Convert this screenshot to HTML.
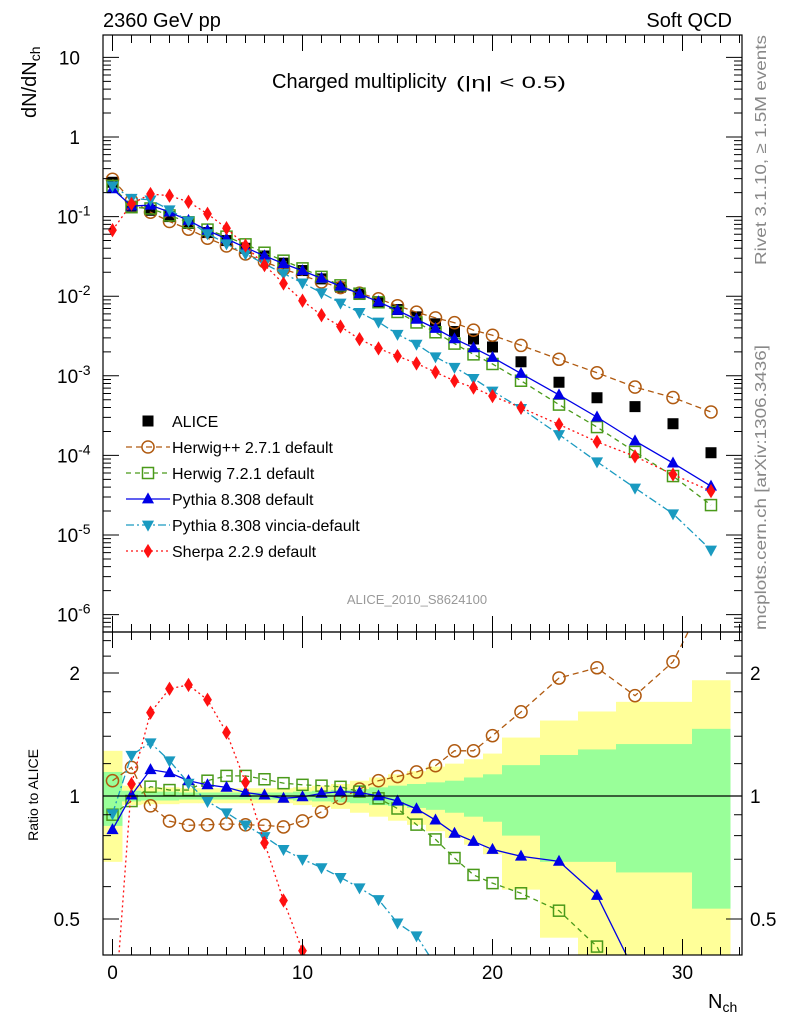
<!DOCTYPE html>
<html><head><meta charset="utf-8">
<style>
html,body{margin:0;padding:0;background:#fff;overflow:hidden;width:786px;height:1024px;}
svg{display:block;position:absolute;left:0;top:0;}
svg text{font-family:"Liberation Sans",sans-serif;}
</style></head>
<body>
<svg id="c" width="786" height="1024" viewBox="0 0 786 1024" xmlns="http://www.w3.org/2000/svg" overflow="hidden">
<defs>
<clipPath id="clipMain"><rect x="103" y="35" width="639" height="597"/></clipPath>
<clipPath id="clipRatio"><rect x="103" y="632" width="639" height="323"/></clipPath>
</defs>
<text x="103" y="27" font-size="20">2360 GeV pp</text>
<text x="732" y="27" font-size="20" text-anchor="end">Soft QCD</text>
<text x="272" y="88" font-size="20">Charged multiplicity</text>
<text x="456" y="88" font-size="17" textLength="110" lengthAdjust="spacingAndGlyphs">(|η| &lt; 0.5)</text>
<text transform="translate(36,118) rotate(-90)" font-size="20">dN/dN<tspan font-size="14" dy="4">ch</tspan></text>
<text transform="translate(38,795) rotate(-90)" font-size="14" text-anchor="middle">Ratio to ALICE</text>
<text transform="translate(766,265) rotate(-90)" font-size="16" fill="#888" textLength="230" lengthAdjust="spacingAndGlyphs">Rivet 3.1.10, ≥ 1.5M events</text>
<text transform="translate(766,630) rotate(-90)" font-size="16" fill="#888" textLength="285" lengthAdjust="spacingAndGlyphs">mcplots.cern.ch [arXiv:1306.3436]</text>
<text x="417" y="604" font-size="13" fill="#999" text-anchor="middle">ALICE_2010_S8624100</text>
<text x="708" y="1008" font-size="20">N<tspan font-size="14" dy="4">ch</tspan></text>
<g id="bands"></g><g id="ratio"></g><g id="main"></g><g id="axes"></g><g id="legend"></g>
</svg>
<script>
const xs=[0,1,2,3,4,5,6,7,8,9,10,11,12,13,14,15,16,17,18,19,20,21.5,23.5,25.5,27.5,29.5,31.5];
const alice=[0.27,0.135,0.12,0.10,0.082,0.063,0.05,0.040,0.032,0.026,0.021,0.0165,0.013,0.0105,0.0085,0.0068,0.0055,0.0045,0.0036,0.0029,0.0023,0.0015,0.00083,0.00053,0.00041,0.00025,0.000108];
const herwigpp=[1.09,1.175,0.946,0.868,0.848,0.85,0.855,0.85,0.848,0.84,0.869,0.915,0.987,1.04,1.09,1.116,1.145,1.186,1.29,1.29,1.405,1.607,1.944,2.06,1.76,2.13,3.25];
const herwig7=[0.90,0.972,1.054,1.034,1.034,1.09,1.12,1.12,1.099,1.075,1.065,1.06,1.053,1.025,0.987,0.932,0.851,0.783,0.705,0.641,0.612,0.578,0.524,0.428,0.27,0.22,0.22];
const pythia=[0.827,1.005,1.16,1.14,1.09,1.065,1.05,1.02,1.005,0.987,0.995,1.015,1.025,1.02,1.0,0.972,0.93,0.873,0.81,0.774,0.74,0.712,0.692,0.571,0.37,0.32,0.38];
const vincia=[0.905,1.258,1.35,1.22,1.075,0.97,0.91,0.85,0.796,0.74,0.70,0.668,0.632,0.596,0.558,0.489,0.455,0.385,0.355,0.32,0.28,0.26,0.22,0.157,0.095,0.074,0.06];
const sherpa=[0.25,1.07,1.6,1.83,1.87,1.72,1.43,1.08,0.768,0.555,0.418,0.35,0.32,0.275,0.26,0.26,0.26,0.247,0.24,0.245,0.242,0.265,0.295,0.28,0.237,0.23,0.33];
const binLo=[-0.5,0.5,1.5,2.5,3.5,4.5,5.5,6.5,7.5,8.5,9.5,10.5,11.5,12.5,13.5,14.5,15.5,16.5,17.5,18.5,19.5,20.5,22.5,24.5,26.5,28.5,30.5];
const binHi=[0.5,1.5,2.5,3.5,4.5,5.5,6.5,7.5,8.5,9.5,10.5,11.5,12.5,13.5,14.5,15.5,16.5,17.5,18.5,19.5,20.5,22.5,24.5,26.5,28.5,30.5,32.5];
const yelHi=[1.29,1.06,1.05,1.05,1.045,1.045,1.045,1.045,1.045,1.045,1.05,1.06,1.07,1.09,1.11,1.13,1.15,1.18,1.2,1.23,1.27,1.39,1.53,1.61,1.7,1.7,1.92];
const yelLo=[0.69,0.95,0.955,0.955,0.96,0.96,0.96,0.96,0.96,0.96,0.95,0.94,0.93,0.91,0.89,0.87,0.85,0.82,0.79,0.76,0.72,0.59,0.45,0.3,0.3,0.3,0.3];
const grnHi=[1.145,1.03,1.025,1.025,1.02,1.02,1.02,1.02,1.02,1.02,1.025,1.03,1.035,1.04,1.05,1.06,1.07,1.08,1.09,1.11,1.13,1.19,1.26,1.3,1.34,1.34,1.46];
const grnLo=[0.845,0.97,0.975,0.975,0.98,0.98,0.98,0.98,0.98,0.98,0.975,0.97,0.965,0.96,0.95,0.945,0.935,0.925,0.91,0.89,0.865,0.8,0.69,0.69,0.65,0.65,0.53];
const xTicks=[0,10,20,30];
const mainTickLabels=[["10",1],["1",0],["10","-1"],["10","-2"],["10","-3"],["10","-4"],["10","-5"],["10","-6"]];
const ratioTicks=[2,1,0.5];

const NS="http://www.w3.org/2000/svg";
const X=v=>112.5+19*v;
const Ym=v=>137-79.6*Math.log10(v);
const Yr=r=>796-123*Math.log2(r);
function el(tag,attrs,parent){const e=document.createElementNS(NS,tag);for(const k in attrs)e.setAttribute(k,attrs[k]);parent.appendChild(e);return e;}
const G=id=>document.getElementById(id);

const bg=G('bands');bg.setAttribute('clip-path','url(#clipRatio)');
xs.forEach((x,i)=>{
 const a=el('rect',{x:X(binLo[i]),y:Yr(yelHi[i]),width:X(binHi[i])-X(binLo[i])+0.5,height:Yr(yelLo[i])-Yr(yelHi[i]),fill:'#ffff99'},bg);
 
 
 const b=el('rect',{x:X(binLo[i]),y:Yr(grnHi[i]),width:X(binHi[i])-X(binLo[i])+0.5,height:Yr(grnLo[i])-Yr(grnHi[i]),fill:'#99ff99'},bg);
 
 
});

const series=[
 {name:'herwigpp',vals:herwigpp,col:'#b05a10',dash:'6,4',m:'circle'},
 {name:'herwig7',vals:herwig7,col:'#4a9a1a',dash:'5,4',m:'square'},
 {name:'pythia',vals:pythia,col:'#0000e6',dash:'',m:'tri'},
 {name:'vincia',vals:vincia,col:'#1a9ac0',dash:'8,3,2,3',m:'dtri'},
 {name:'sherpa',vals:sherpa,col:'#ff1010',dash:'2,3',m:'diamond'}
];
function marker(g,type,x,y,col,s){
 let e;
 if(type==='circle')e=el('circle',{cx:x,cy:y,r:s*0.55,fill:'none',stroke:col,'stroke-width':1.5},g);
 else if(type==='square')e=el('rect',{x:x-s*0.5,y:y-s*0.5,width:s,height:s,fill:'none',stroke:col,'stroke-width':1.5},g);
 else if(type==='tri')e=el('polygon',{points:`${x},${y-s*0.6} ${x-s*0.55},${y+s*0.4} ${x+s*0.55},${y+s*0.4}`,fill:col},g);
 else if(type==='dtri')e=el('polygon',{points:`${x},${y+s*0.6} ${x-s*0.55},${y-s*0.4} ${x+s*0.55},${y-s*0.4}`,fill:col},g);
 else if(type==='diamond')e=el('polygon',{points:`${x},${y-s*0.65} ${x-s*0.4},${y} ${x},${y+s*0.65} ${x+s*0.4},${y}`,fill:col},g);
 else e=el('rect',{x:x-s*0.5,y:y-s*0.5,width:s,height:s,fill:col},g);
 return e;
}
const mg=G('main');mg.setAttribute('clip-path','url(#clipMain)');
const rg=G('ratio');rg.setAttribute('clip-path','url(#clipRatio)');
xs.forEach((x,i)=>{
 const m=marker(mg,'sq',X(x),Ym(alice[i]),'#000',11);
 
 
});
series.forEach(s=>{
 const pm=xs.map((x,i)=>X(x)+','+Ym(alice[i]*s.vals[i])).join(' ');
 const pr=xs.map((x,i)=>X(x)+','+Yr(s.vals[i])).join(' ');
 const l1=el('polyline',{points:pm,fill:'none',stroke:s.col,'stroke-width':1.3,'stroke-dasharray':s.dash},mg);
 
 
 const l2=el('polyline',{points:pr,fill:'none',stroke:s.col,'stroke-width':1.3,'stroke-dasharray':s.dash},rg);
 
 
 xs.forEach((x,i)=>{
  const a=marker(mg,s.m,X(x),Ym(alice[i]*s.vals[i]),s.col,11);
  
  
  const b=marker(rg,s.m,X(x),Yr(s.vals[i]),s.col,11);
  
  
 });
});
const ag=G('axes');
const f1=el('rect',{x:103,y:35,width:639,height:597,fill:'none',stroke:'#000','stroke-width':1.2},ag);


const f2=el('rect',{x:103,y:632,width:639,height:323,fill:'none',stroke:'#000','stroke-width':1.2},ag);


const one=el('line',{x1:103,x2:742,y1:Yr(1),y2:Yr(1),stroke:'#000','stroke-width':1.2},ag);


let tp='';
for(let v=0;v<=33;v++){const x=X(v);const L=v%10===0?16:8;
 tp+=`M${x},632v${-L}M${x},632v${L}M${x},955v${-L}M${x},35v${L}`;}
for(let d=-7;d<=1;d++){for(let k=1;k<10;k++){const v=k*Math.pow(10,d);const y=Ym(v);if(y<35||y>632)continue;const L=k===1?16:8;tp+=`M103,${y}h${L}M742,${y}h${-L}`;}}
[0.4,0.5,0.6,0.7,0.8,0.9,1,1.2,1.4,1.6,1.8,2,2.2,2.4].forEach(r=>{const y=Yr(r);if(y<632||y>955)return;const L=(r===0.5||r===1||r===2)?16:8;tp+=`M103,${y}h${L}M742,${y}h${-L}`;});
const tk=el('path',{d:tp,stroke:'#000','stroke-width':1,fill:'none'},ag);


xTicks.forEach(v=>{const t=el('text',{x:X(v),y:979,'font-size':19,'text-anchor':'middle'},ag);t.textContent=v;
 
 });
mainTickLabels.forEach((lab,i)=>{const exp=i===0?1:(i===1?0:-(i-1));const y=Ym(Math.pow(10,exp));
 const t=el('text',{x:80,y:y+7,'font-size':19,'text-anchor':i<2?'end':'start'},ag);
 if(i<2){t.textContent=lab[0];}
 else{t.setAttribute('x',57);t.textContent=lab[0];const s=el('tspan',{'font-size':14,dy:-8},t);s.textContent=lab[1];}
 
 });
ratioTicks.forEach(r=>{const y=Yr(r)+7;
 const a=el('text',{x:80,y:y,'font-size':19,'text-anchor':'end'},ag);a.textContent=r;
 
 
 const b=el('text',{x:750,y:y,'font-size':19},ag);b.textContent=r;
 
 });
const lg=G('legend');
const leg=[['ALICE','sq','#000',''],['Herwig++ 2.7.1 default','circle','#b05a10','6,4'],['Herwig 7.2.1 default','square','#4a9a1a','5,4'],['Pythia 8.308 default','tri','#0000e6',''],['Pythia 8.308 vincia-default','dtri','#1a9ac0','8,3,2,3'],['Sherpa 2.2.9 default','diamond','#ff1010','2,3']];
leg.forEach((e,i)=>{const y=421+i*26;
 if(i>0){const l=el('line',{x1:126,x2:170,y1:y,y2:y,stroke:e[2],'stroke-width':1.3,'stroke-dasharray':e[3]},lg);
  
  }
 const m=marker(lg,e[1],148,y,e[2],11);
 
 
 const t=el('text',{x:172,y:y+6,'font-size':16},lg);t.textContent=e[0];
 
 });
</script>
</body></html>
